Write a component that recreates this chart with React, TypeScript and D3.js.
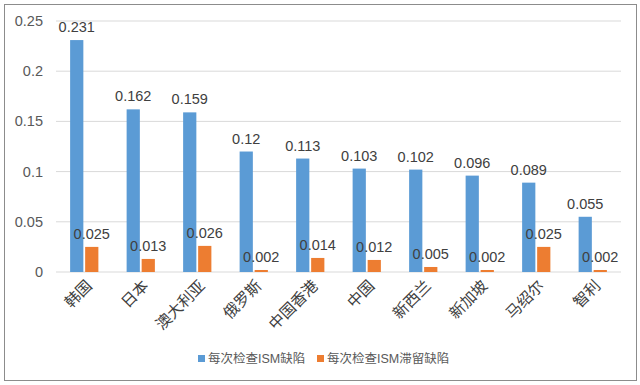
import React from "react";
import * as d3 from "d3";

const categories = ["韩国", "日本", "澳大利亚", "俄罗斯", "中国香港", "中国", "新西兰", "新加坡", "马绍尔", "智利"];
const seriesNames = ["每次检查ISM缺陷", "每次检查ISM滞留缺陷"];
const defects = [0.231, 0.162, 0.159, 0.12, 0.113, 0.103, 0.102, 0.096, 0.089, 0.055];
const detentionDefects = [0.025, 0.013, 0.026, 0.002, 0.014, 0.012, 0.005, 0.002, 0.025, 0.002];
const yTicks = [0, 0.05, 0.1, 0.15, 0.2, 0.25];
const yTickLabels = ["0", "0.05", "0.1", "0.15", "0.2", "0.25"];

const W = 640, H = 385;
const colors = ["#5B9BD5", "#ED7D31"];
const font = "'Liberation Sans', 'Noto Sans CJK SC', Arial, sans-serif";

export default function App() {
  const left = 56, right = 621, top = 21, bottom = 272;
  const x = d3.scaleBand<string>().domain(categories).range([left, right]).paddingInner(0.5).paddingOuter(0.25);
  const y = d3.scaleLinear().domain([0, 0.25]).range([bottom, top]);
  const inner = d3.scaleBand<number>().domain([0, 1]).range([0, x.bandwidth()]).paddingInner(0.12);
  const series = [defects, detentionDefects];

  return (
    <svg width={W} height={H} style={{ position: "absolute", left: 0, top: 0, fontFamily: font }}>
      <rect x={0} y={0} width={W} height={H} fill="#ffffff" />
      <rect x={4.5} y={4.5} width={632} height={376} fill="#ffffff" stroke="#8c8c8c" strokeWidth={1} />
      {yTicks.map((t, i) => (
        <g key={i}>
          {i > 0 && <line x1={left} x2={right} y1={y(t)} y2={y(t)} stroke="#D9D9D9" strokeWidth={1} />}
          <text x={43} y={y(t)} dy="0.35em" textAnchor="end" fontSize={14.5} fill="#595959">{yTickLabels[i]}</text>
        </g>
      ))}
      <line x1={left} x2={right} y1={bottom} y2={bottom} stroke="#D9D9D9" strokeWidth={1} />
      {series.map((vals, si) => (
        <g key={si}>
          {categories.map((c, ci) => {
            const bx = (x(c) as number) + (inner(si) as number);
            const bw = inner.bandwidth();
            return <rect key={c} x={bx} y={y(vals[ci])} width={bw} height={bottom - y(vals[ci])} fill={colors[si]} />;
          })}
        </g>
      ))}
      {series.map((vals, si) => (
        <g key={"l" + si}>
          {categories.map((c, ci) => {
            const bx = (x(c) as number) + (inner(si) as number) + inner.bandwidth() / 2;
            return (
              <text key={c} x={bx} y={y(vals[ci]) - 8} textAnchor="middle" fontSize={14.5} fill="#404040">
                {String(vals[ci])}
              </text>
            );
          })}
        </g>
      ))}
      {categories.map((c) => {
        const cx = (x(c) as number) + x.bandwidth() / 2 + 5;
        return (
          <text key={c} transform={`translate(${cx},${283}) rotate(-45)`} textAnchor="end" dy="0.35em" fontSize={15.5} fill="#404040">
            {c}
          </text>
        );
      })}
      {seriesNames.map((n, i) => {
        const lx = i === 0 ? 198 : 317;
        return (
          <g key={n}>
            <rect x={lx} y={355} width={7} height={7} fill={colors[i]} />
            <text x={lx + 10} y={359} dy="0.35em" fontSize={12.5} fill="#595959">{n}</text>
          </g>
        );
      })}
    </svg>
  );
}
